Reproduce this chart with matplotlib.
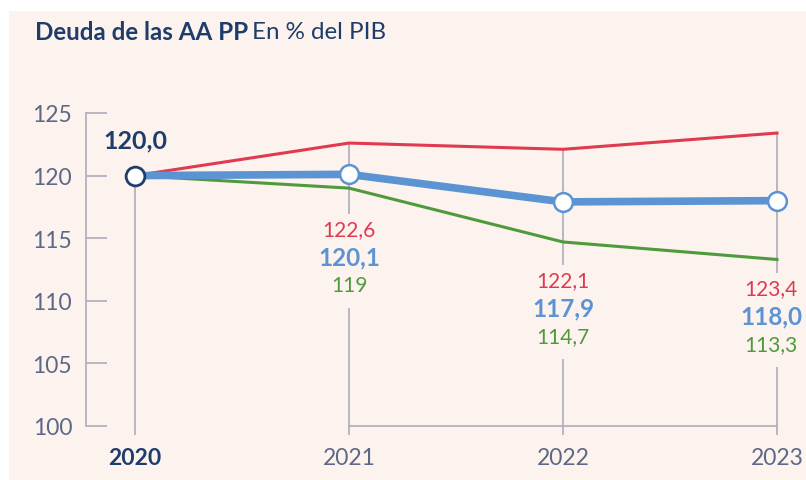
import matplotlib.pyplot as plt
from matplotlib.patches import Rectangle

# Data
years = ["2020", "2021", "2022", "2023"]
red_vals = [120.0, 122.6, 122.1, 123.4]
blue_vals = [120.0, 120.1, 117.9, 118.0]
green_vals = [120.0, 119.0, 114.7, 113.3]
red_labels = ["", "122,6", "122,1", "123,4"]
blue_labels = ["120,0", "120,1", "117,9", "118,0"]
green_labels = ["", "119", "114,7", "113,3"]
yticks = [100, 105, 110, 115, 120, 125]

# Colours
bg = "#fcf3ee"
red = "#e03a50"
blue = "#5b93d3"
green = "#4f9a3c"
navy = "#1f3d6b"
grey = "#b1b1bf"
tick_col = "#5d6886"

plt.rcParams['font.family'] = ['Lato', 'DejaVu Sans']

fig = plt.figure(figsize=(8.06, 4.81), dpi=100)
fig.patch.set_facecolor("white")
fig.patches.append(Rectangle((9 / 806, 0), 1, 1 - 12 / 481, transform=fig.transFigure,
                             facecolor=bg, edgecolor="none", zorder=-5))

# axes: x 0..3 -> px 135..777, y 100..125 -> px 427..114
ax = fig.add_axes([86 / 806, (481 - 427) / 481, (790 - 86) / 806, (427 - 114) / 481])
ax.set_zorder(2)
ax.set_facecolor("none")
ax.set_xlim(-49 / 214, 3 + 13 / 214)
ax.set_ylim(100, 125)

x = list(range(len(years)))
px = 25 / 313  # data units per pixel on y
pxx = 1 / 214  # data units per pixel on x

# label block centre (blue label) per year, in data units
label_mid = [None, 113.5, 109.4, 108.8]
label_dx = [0, 0, 0, -6 * pxx]
step = 28 * px

# vertical guide lines with a gap where the labels sit
for i in x:
    top = max(red_vals[i], blue_vals[i], green_vals[i])
    bottom = 100 - 8 * px
    if label_mid[i] is None:
        ax.plot([i, i], [top, bottom], color=grey, lw=1.3, zorder=1, clip_on=False)
    else:
        gap_top = label_mid[i] + step + 16 * px
        gap_bot = label_mid[i] - step - 24 * px
        ax.plot([i, i], [top, gap_top], color=grey, lw=1.3, zorder=1, clip_on=False)
        ax.plot([i, i], [gap_bot, bottom], color=grey, lw=1.3, zorder=1, clip_on=False)

ax.plot(x, red_vals, color=red, lw=2.2, zorder=2, clip_on=False)
ax.plot(x, green_vals, color=green, lw=2.2, zorder=2, clip_on=False)
ax.plot(x, blue_vals, color=blue, lw=5.5, zorder=3, clip_on=False, solid_capstyle="round")
ax.plot(x[1:], blue_vals[1:], 'o', ms=13.5, mfc="white", mec=blue, mew=1.8, zorder=4, clip_on=False)
ax.plot(x[:1], blue_vals[:1], 'o', ms=13.5, mfc="white", mec=navy, mew=2.0, zorder=4, clip_on=False)

# value labels
ax.text(0, blue_vals[0] + 2.85, blue_labels[0], color=navy, fontsize=18, fontweight="bold",
        ha="center", va="center")
for i in x[1:]:
    xl = i + label_dx[i]
    ax.text(xl, label_mid[i] + step, red_labels[i], color=red, fontsize=15,
            ha="center", va="center")
    ax.text(xl, label_mid[i], blue_labels[i], color=blue, fontsize=17.5, fontweight="bold",
            ha="center", va="center")
    ax.text(xl, label_mid[i] - step, green_labels[i], color=green, fontsize=15,
            ha="center", va="center")

# axes styling
for s in ["top", "right"]:
    ax.spines[s].set_visible(False)
ax.spines["left"].set_color(grey)
ax.spines["left"].set_linewidth(1.3)
ax.spines["bottom"].set_color(grey)
ax.spines["bottom"].set_linewidth(1.3)
ax.spines["bottom"].set_bounds(1, 3)

ax.set_yticks(yticks)
ax.set_yticklabels([str(v) for v in yticks])
ax.tick_params(axis="y", direction="in", length=15, width=1.3, color=grey,
               labelcolor=tick_col, labelsize=16.5, pad=10)
ax.set_xticks(x)
ax.set_xticklabels(years)
ax.tick_params(axis="x", length=0, labelcolor=tick_col, labelsize=16.5, pad=15)
lbl = ax.get_xticklabels()[0]
lbl.set_fontweight("bold")
lbl.set_color(navy)

# title: bold part + regular part
t1 = fig.text(35 / 806, 1 - 33 / 481, "Deuda de las AA PP", color=navy, fontsize=17.4,
              fontweight="bold", ha="left", va="center")
fig.canvas.draw()
bb = t1.get_window_extent()
fig.text((bb.x1 + 4) / 806, 1 - 33 / 481, "En % del PIB", color=navy, fontsize=17.4,
         ha="left", va="center")

fig.savefig("out.png", dpi=100, facecolor=fig.get_facecolor())
